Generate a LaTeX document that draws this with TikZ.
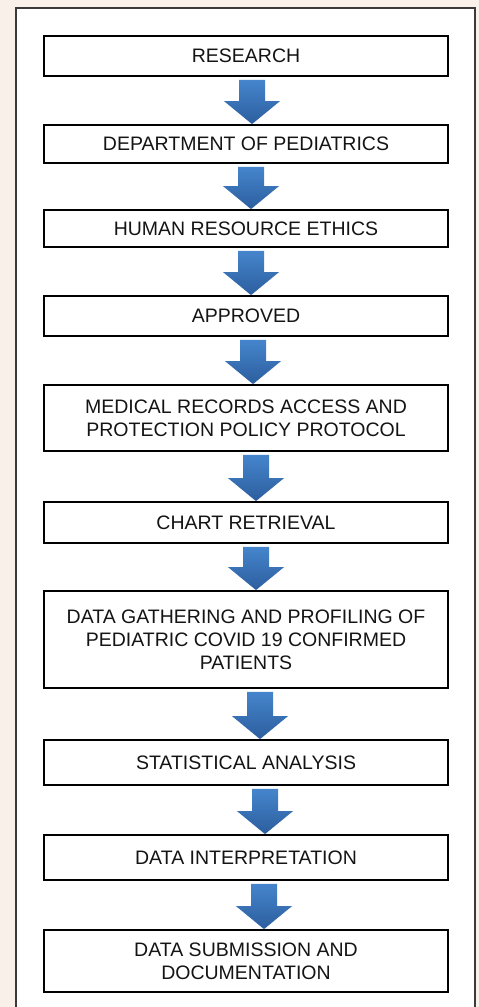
\documentclass[tikz,border=0pt]{standalone}
\usepackage{fontspec}
\setmainfont{Liberation Sans}
\usetikzlibrary{calc}
\definecolor{pagebg}{HTML}{FAF0EA}
\definecolor{panelline}{HTML}{3A3A3A}
\definecolor{arrowtop}{HTML}{4585CC}
\definecolor{arrowbot}{HTML}{2C5E9E}
\tikzset{
  stepbox/.style={draw=black, line width=1.8pt, fill=white, minimum width=404pt,
    align=center, inner sep=0pt, font=\fontsize{19.5}{22.8}\selectfont, text=black!92},
  arrowshade/.style={top color=arrowtop, bottom color=arrowbot, draw=none}
}
\newcommand\flowarrow[3]{%
  \shade[arrowshade] let \p1=(#1.south), \p2=(#2.north) in
   ({\x1+#3-13pt},{\y1-3pt}) -- ({\x1+#3+13pt},{\y1-3pt}) --
   ({\x1+#3+13pt},{\y2+23pt}) -- ({\x1+#3+28pt},{\y2+23pt}) --
   ({\x1+#3},{\y2}) -- ({\x1+#3-28pt},{\y2+23pt}) --
   ({\x1+#3-13pt},{\y2+23pt}) -- cycle;}
\begin{document}
\begin{tikzpicture}[x=1pt,y=-1pt]
\useasboundingbox (0,0) rectangle (479,1007);
\fill[pagebg] (0,0) rectangle (479,1007);
\draw[panelline, line width=2pt, fill=white] (16,8) rectangle (475,1015);

\node[stepbox, minimum height=40pt] (b1) at (246,56) {RESEARCH};
\node[stepbox, minimum height=38pt] (b2) at (246,144) {DEPARTMENT OF PEDIATRICS};
\node[stepbox, minimum height=37pt] (b3) at (246,228.5) {HUMAN RESOURCE ETHICS};
\node[stepbox, minimum height=40pt] (b4) at (246,316) {APPROVED};
\node[stepbox, minimum height=66pt] (b5) at (246,418) {MEDICAL RECORDS ACCESS AND\\PROTECTION POLICY PROTOCOL};
\node[stepbox, minimum height=41pt] (b6) at (246,522.5) {CHART RETRIEVAL};
\node[stepbox, minimum height=97pt] (b7) at (246,639.5) {DATA GATHERING AND PROFILING OF\\PEDIATRIC COVID 19 CONFIRMED\\PATIENTS};
\node[stepbox, minimum height=45pt] (b8) at (246,762.5) {STATISTICAL ANALYSIS};
\node[stepbox, minimum height=45pt] (b9) at (246,857.5) {DATA INTERPRETATION};
\node[stepbox, minimum height=62pt] (b10) at (246,961) {DATA SUBMISSION AND\\DOCUMENTATION};

\flowarrow{b1}{b2}{6pt}
\flowarrow{b2}{b3}{5pt}
\flowarrow{b3}{b4}{5pt}
\flowarrow{b4}{b5}{7pt}
\flowarrow{b5}{b6}{10pt}
\flowarrow{b6}{b7}{10pt}
\flowarrow{b7}{b8}{14pt}
\flowarrow{b8}{b9}{19pt}
\flowarrow{b9}{b10}{18pt}
\end{tikzpicture}
\end{document}
